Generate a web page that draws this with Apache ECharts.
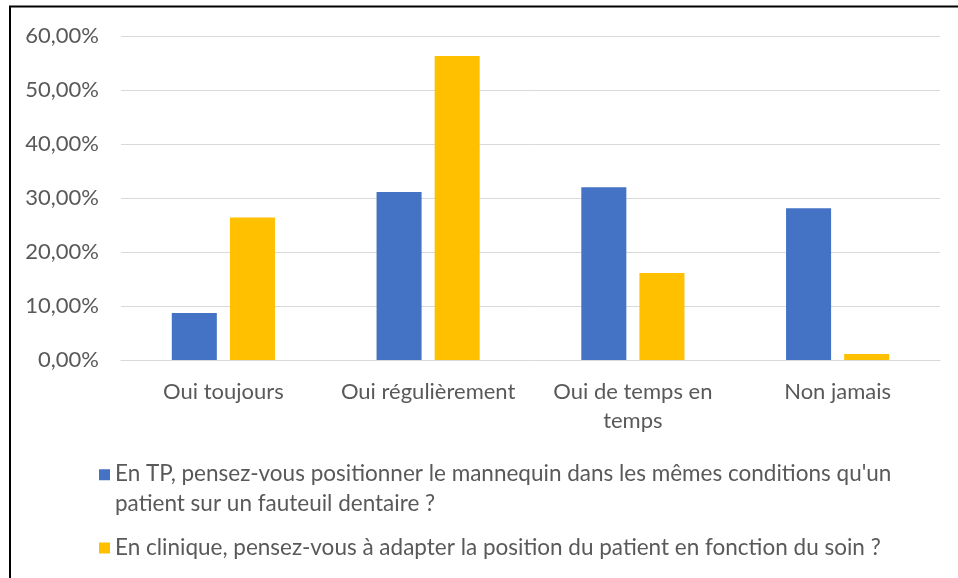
<!DOCTYPE html>
<html>
<head>
<meta charset="utf-8">
<title>Positionnement</title>
<script src="https://cdn.jsdelivr.net/npm/echarts@6/dist/echarts.min.js"></script>
<style>
    html, body { margin: 0; padding: 0; background: #fff; }
    #chart { width: 958px; height: 578px; }
</style>
</head>
<body>
<div id="chart"></div>
<script>
// données (en %)
const categories = ['Oui toujours', 'Oui régulièrement', 'Oui de temps en temps', 'Non jamais'];
const seriesNames = [
    "En TP, pensez-vous positionner le mannequin dans les mêmes conditions qu'un patient sur un fauteuil dentaire ?",
    'En clinique, pensez-vous à adapter la position du patient en fonction du soin ?'
];
const tpValues = [8.7, 31.1, 32.0, 28.1];
const cliniqueValues = [26.4, 56.3, 16.1, 1.1];
const yTicks = [0, 10, 20, 30, 40, 50, 60];

const textColor = '#595959';
const gridColor = '#d9d9d9';
const font = 'Lato, "Liberation Sans", sans-serif';

const chart = echarts.init(document.getElementById('chart'));

const fmtPct = v => v.toFixed(2).replace('.', ',') + '%';

chart.setOption({
    backgroundColor: '#fff',
    textStyle: { fontFamily: font },
    animation: false,
    grid: { left: 121, right: 18, top: 36, bottom: 218, containLabel: false },
    // cadre du graphique
    graphic: [{
        type: 'rect',
        shape: { x: 10, y: 6.5, width: 1000, height: 1000 },
        style: { fill: 'none', stroke: '#000', lineWidth: 2 },
        silent: true
    }],
    legend: [{
        left: 99,
        top: 459,
        padding: 0,
        itemWidth: 11,
        itemHeight: 44,
        data: [{ name: seriesNames[0], icon: 'path://M0,0h0.01M0,2h10v10h-10zM0,40h10' }],
        formatter: name => name.replace(" qu'un ", " qu'un\n"),
        textStyle: { color: textColor, fontSize: 22.5, lineHeight: 30, fontFamily: font }
    }, {
        left: 99,
        top: 533,
        padding: 0,
        itemWidth: 11,
        itemHeight: 11,
        data: [{ name: seriesNames[1], icon: 'rect' }],
        textStyle: { color: textColor, fontSize: 22.5, lineHeight: 30, fontFamily: font }
    }],
    xAxis: {
        type: 'category',
        data: categories,
        axisLine: { lineStyle: { color: gridColor, width: 1 } },
        axisTick: { show: false },
        axisLabel: {
            color: textColor,
            fontSize: 22,
            lineHeight: 29,
            margin: 17,
            interval: 0,
            // retour à la ligne comme dans Excel
            formatter: v => v.replace('temps en temps', 'temps en\ntemps')
        }
    },
    yAxis: {
        type: 'value',
        min: yTicks[0],
        max: yTicks[yTicks.length - 1],
        interval: 10,
        axisLine: { show: false },
        axisTick: { show: false },
        axisLabel: { color: textColor, fontSize: 22, margin: 22, formatter: fmtPct },
        splitLine: { lineStyle: { color: gridColor, width: 1 } }
    },
    series: [{
        name: seriesNames[0],
        type: 'bar',
        data: tpValues,
        barWidth: '22%',
        barGap: '29%',
        itemStyle: { color: '#4472C4' }
    }, {
        name: seriesNames[1],
        type: 'bar',
        data: cliniqueValues,
        barWidth: '22%',
        itemStyle: { color: '#FFC000' }
    }]
});
</script>
</body>
</html>
